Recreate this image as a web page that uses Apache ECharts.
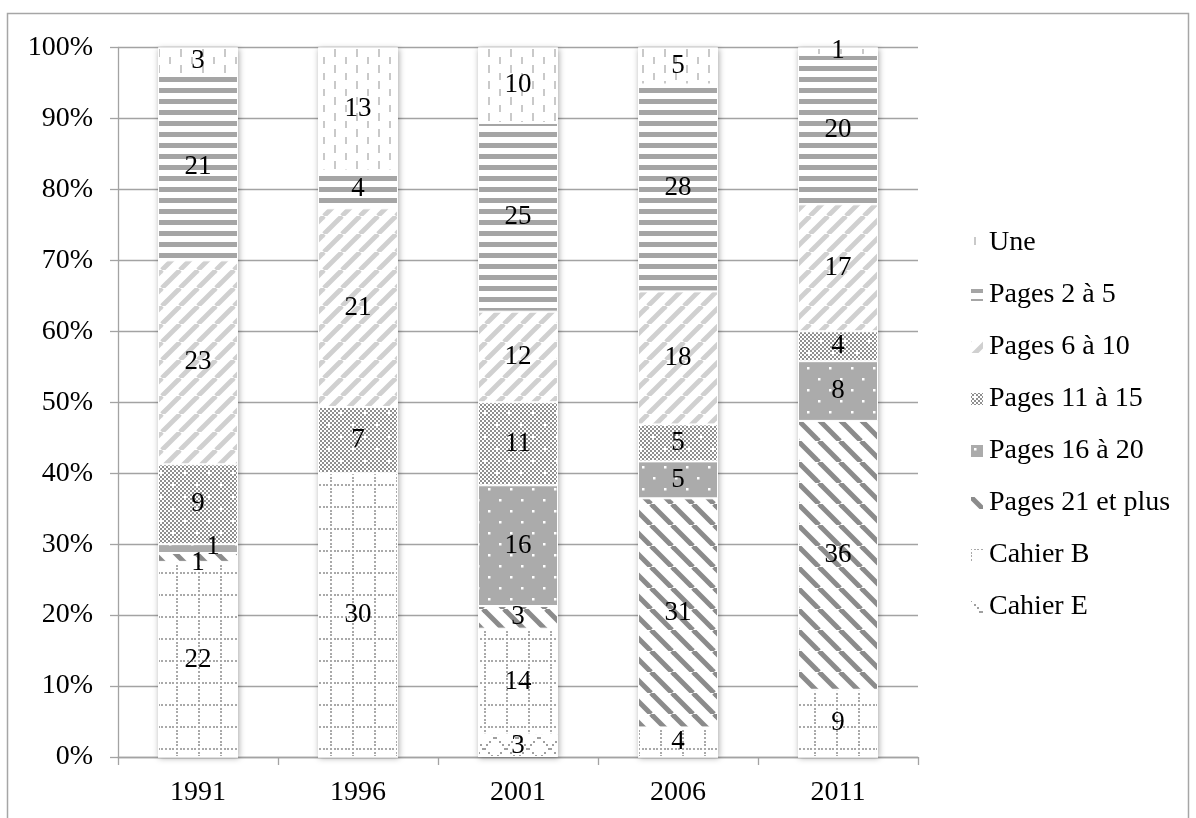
<!DOCTYPE html>
<html>
<head>
<meta charset="utf-8">
<script src="https://cdn.jsdelivr.net/npm/echarts@6/dist/echarts.min.js"></script>
<style>
  html, body { margin: 0; padding: 0; background: #fff; }
  #chart { width: 1196px; height: 818px; }
</style>
</head>
<body>
<div id="chart"></div>
<script>
// Categories and counts per year (stacked bottom to top)
const years   = ['1991', '1996', '2001', '2006', '2011'];
const cahierE = [0, 0, 3, 0, 0];
const cahierB = [22, 30, 14, 4, 9];
const pages21 = [1, 0, 3, 31, 36];
const pages16 = [1, 0, 16, 5, 8];
const pages11 = [9, 7, 11, 5, 4];
const pages6  = [23, 21, 12, 18, 17];
const pages2  = [21, 4, 25, 28, 20];
const une     = [3, 13, 10, 5, 1];
const yTicks  = [0, 10, 20, 30, 40, 50, 60, 70, 80, 90, 100];

const FONT = '"Liberation Serif", "DejaVu Serif", serif';

// ---- pattern tiles ----
function tile(w, h, draw) {
  const c = document.createElement('canvas');
  c.width = w; c.height = h;
  const g = c.getContext('2d');
  g.fillStyle = '#fff';
  g.fillRect(0, 0, w, h);
  draw(g, w, h);
  return { image: c, repeat: 'repeat' };
}

const patUne = tile(22, 16, g => {
  g.fillStyle = '#c9c9c9';
  g.fillRect(4, 1, 2, 8);
  g.fillRect(15, 9, 2, 8);
});
const patP2 = tile(11, 11, g => {
  g.fillStyle = '#a5a5a5';
  g.fillRect(0, 0, 11, 5);
});
const patP6 = tile(18, 18, g => {
  g.strokeStyle = '#d0d0d0';
  g.lineWidth = 4.8;
  for (let k = -1; k <= 1; k++) {
    g.beginPath(); g.moveTo(k * 18, 18); g.lineTo(k * 18 + 18, 0); g.stroke();
  }
});
const patP11 = tile(24, 24, g => {
  g.fillStyle = '#8f8f8f';
  for (let y = 0; y < 24; y += 2)
    for (let x = 0; x < 24; x += 2)
      if (((x + y) / 2) % 2 === 0) g.fillRect(x, y, 2, 2);
  g.fillStyle = '#fff';
  g.fillRect(4, 4, 2, 2);
  g.fillRect(16, 16, 2, 2);
});
const patP16 = tile(22, 22, g => {
  g.fillStyle = '#ababab';
  g.fillRect(0, 0, 22, 22);
  g.fillStyle = '#fff';
  g.fillRect(4, 4, 2.5, 2.5);
  g.fillRect(15, 15, 2.5, 2.5);
});
const patP21 = tile(21, 21, g => {
  g.strokeStyle = '#8b8b8b';
  g.lineWidth = 5;
  for (let k = -1; k <= 1; k++) {
    g.beginPath(); g.moveTo(k * 21, 0); g.lineTo(k * 21 + 21, 21); g.stroke();
  }
});
const patB = tile(22, 22, g => {
  g.fillStyle = '#a9a9a9';
  for (let i = 0; i < 6; i++) {
    g.fillRect(Math.round(i * 22 / 6), 0, 2, 2);
    g.fillRect(0, Math.round(i * 22 / 6), 2, 2);
  }
});
const patE = tile(22, 22, g => {
  g.fillStyle = '#a0a0a0';
  for (let i = 0; i < 6; i++) {
    const t = i * 22 / 6;
    g.fillRect(Math.round(t), Math.round(t), 2, 2);
    g.fillRect(Math.round(22 - t - 2), Math.round(t), 2, 2);
  }
});

// ---- series definitions (bottom of stack first) ----
const layers = [
  { name: 'Cahier E',         counts: cahierE, color: patE },
  { name: 'Cahier B',         counts: cahierB, color: patB },
  { name: 'Pages 21 et plus', counts: pages21, color: patP21 },
  { name: 'Pages 16 à 20',    counts: pages16, color: patP16 },
  { name: 'Pages 11 à 15',    counts: pages11, color: patP11 },
  { name: 'Pages 6 à 10',     counts: pages6,  color: patP6 },
  { name: 'Pages 2 à 5',      counts: pages2,  color: patP2 },
  { name: 'Une',              counts: une,     color: patUne }
];

const totals = years.map((_, i) => layers.reduce((s, l) => s + l.counts[i], 0));

// small label nudges where two tiny segments sit on top of each other
const labelNudge = {
  'Pages 16 à 20|0': [15, -2],
  'Pages 21 et plus|0': [0, 5]
};

const BAR_W = 80;

const series = [{
  // white backdrop carrying the soft bar shadow
  type: 'bar',
  name: '_backdrop',
  data: years.map(() => 100),
  barWidth: BAR_W,
  barGap: '-100%',
  silent: true,
  itemStyle: {
    color: '#fff',
    shadowBlur: 6,
    shadowColor: 'rgba(0,0,0,0.35)',
    shadowOffsetX: 1,
    shadowOffsetY: 1
  },
  label: { show: false },
  z: 1
}];

layers.forEach(l => {
  series.push({
    type: 'bar',
    name: l.name,
    stack: 'total',
    barWidth: BAR_W,
    barGap: '-100%',
    z: 2,
    itemStyle: { color: l.color, borderColor: '#fff', borderWidth: 1 },
    emphasis: { disabled: true },
    label: {
      show: true,
      position: 'inside',
      color: '#000',
      fontFamily: FONT,
      fontSize: 27,
      formatter: p => (l.counts[p.dataIndex] ? String(l.counts[p.dataIndex]) : '')
    },
    data: l.counts.map((v, i) => {
      const item = { value: v ? (v / totals[i]) * 100 : 0 };
      const nudge = labelNudge[l.name + '|' + i];
      if (nudge) item.label = { offset: nudge };
      return item;
    })
  });
});

const chart = echarts.init(document.getElementById('chart'), null, { renderer: 'canvas' });
chart.setOption({
  animation: false,
  backgroundColor: '#fff',
  grid: { left: 118, right: 278, top: 47.5, bottom: 61, containLabel: false },
  legend: {
    orient: 'vertical',
    left: 969,
    top: 228,
    padding: 0,
    itemWidth: 14,
    itemHeight: 14,
    itemGap: 22,
    icon: 'rect',
    selectedMode: false,
    data: layers.map(l => l.name).reverse(),
    textStyle: { fontFamily: FONT, fontSize: 28, color: '#000', lineHeight: 30 }
  },
  xAxis: {
    type: 'category',
    data: years,
    axisLine: { show: true, lineStyle: { color: '#a3a3a3', width: 1.3 } },
    axisTick: { show: true, length: 8, lineStyle: { color: '#a3a3a3', width: 1.3 } },
    axisLabel: { color: '#000', fontFamily: FONT, fontSize: 28, margin: 22 },
    splitLine: { show: false }
  },
  yAxis: {
    type: 'value',
    min: yTicks[0],
    max: yTicks[yTicks.length - 1],
    interval: yTicks[1] - yTicks[0],
    axisLine: { show: true, lineStyle: { color: '#a3a3a3', width: 1.3 } },
    axisTick: { show: true, length: 8, lineStyle: { color: '#a3a3a3', width: 1.3 } },
    axisLabel: { color: '#000', fontFamily: FONT, fontSize: 28, margin: 25, formatter: '{value}%' },
    splitLine: { show: true, lineStyle: { color: '#a3a3a3', width: 1.3 } }
  },
  graphic: [{
    type: 'rect',
    silent: true,
    shape: { x: 7.5, y: 13.5, width: 1181, height: 840 },
    style: { fill: 'none', stroke: '#a6a6a6', lineWidth: 1.5 }
  }],
  series: series
});
</script>
</body>
</html>
